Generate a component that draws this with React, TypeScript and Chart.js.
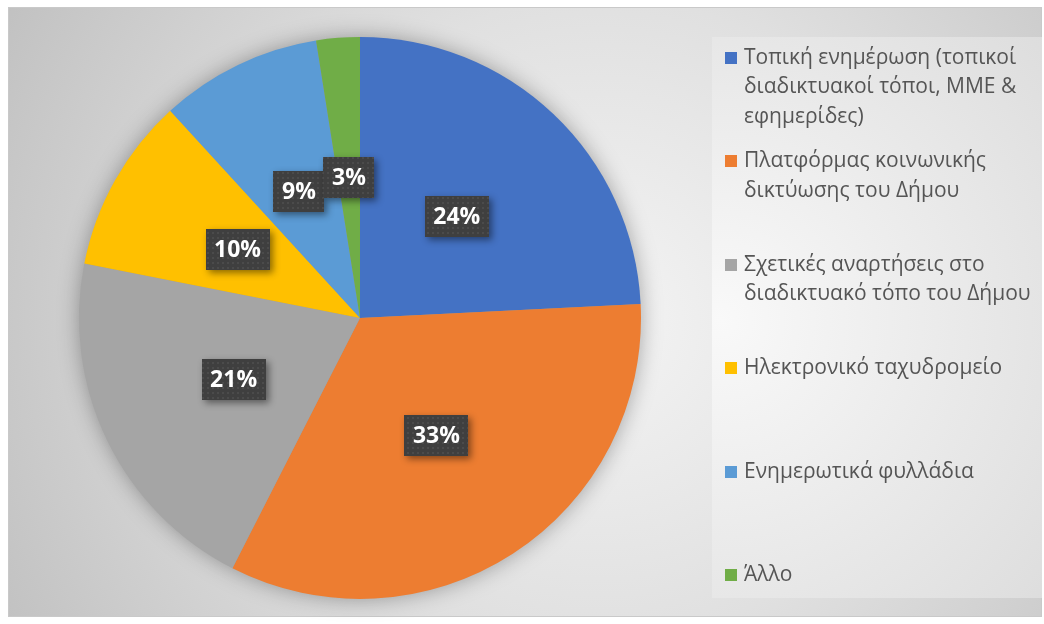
import React, { useEffect, useRef } from "react";
import { Chart, registerables } from "chart.js";

Chart.register(...registerables);

const categories: string[][] = [
  ["Τοπική ενημέρωση (τοπικοί", "διαδικτυακοί τόποι, ΜΜΕ &", "εφημερίδες)"],
  ["Πλατφόρμας κοινωνικής", "δικτύωσης του Δήμου"],
  ["Σχετικές αναρτήσεις στο", "διαδικτυακό τόπο του Δήμου"],
  ["Ηλεκτρονικό ταχυδρομείο"],
  ["Ενημερωτικά φυλλάδια"],
  ["Άλλο"],
];
const values: number[] = [24.2, 33.3, 20.6, 10.1, 9.3, 2.5];
const colors: string[] = ["#4472C4", "#ED7D31", "#A5A5A5", "#FFC000", "#5B9BD5", "#70AD47"];

const W = 1044;
const H = 624;

function makePattern(ctx: CanvasRenderingContext2D): CanvasPattern | string {
  const c = document.createElement("canvas");
  c.width = 5;
  c.height = 5;
  const p = c.getContext("2d");
  if (!p) return "#404040";
  p.fillStyle = "#3f3f3f";
  p.fillRect(0, 0, 5, 5);
  p.fillStyle = "#4b4b4b";
  p.fillRect(2, 2, 2, 2);
  return ctx.createPattern(c, "repeat") || "#404040";
}

const backgroundPlugin = {
  id: "bgPlugin",
  beforeDraw(chart: any) {
    const ctx: CanvasRenderingContext2D = chart.ctx;
    ctx.save();
    ctx.fillStyle = "#ffffff";
    ctx.fillRect(0, 0, W, H);
    const fx = 8, fy = 7, fw = 1034, fh = 610;
    const g = ctx.createRadialGradient(600, 320, 0, 600, 320, 720);
    g.addColorStop(0, "#f4f4f4");
    g.addColorStop(0.45, "#e0e0e0");
    g.addColorStop(1, "#bdbdbd");
    ctx.fillStyle = g;
    ctx.fillRect(fx, fy, fw, fh);
    ctx.strokeStyle = "#c9c9c9";
    ctx.lineWidth = 1;
    ctx.strokeRect(fx + 0.5, fy + 0.5, fw - 1, fh - 1);
    // legend box
    const lx = 712, ly = 37, lw = 330, lh = 561;
    const lg = ctx.createRadialGradient(720, 320, 0, 720, 320, 480);
    lg.addColorStop(0, "#f9f9f9");
    lg.addColorStop(1, "#dadada");
    ctx.fillStyle = lg;
    ctx.fillRect(lx, ly, lw, lh);
    ctx.restore();
  },
  beforeDatasetsDraw(chart: any) {
    const meta = chart.getDatasetMeta(0);
    const arc = meta.data[0];
    if (!arc) return;
    const { x, y, outerRadius } = arc.getProps(["x", "y", "outerRadius"], true);
    const ctx: CanvasRenderingContext2D = chart.ctx;
    ctx.save();
    ctx.shadowColor = "rgba(0,0,0,0.35)";
    ctx.shadowBlur = 22;
    ctx.fillStyle = "#999999";
    ctx.beginPath();
    ctx.arc(x, y, outerRadius - 1, 0, Math.PI * 2);
    ctx.fill();
    ctx.restore();
  },
  afterDatasetsDraw(chart: any) {
    const ctx: CanvasRenderingContext2D = chart.ctx;
    const meta = chart.getDatasetMeta(0);
    const data: number[] = chart.data.datasets[0].data;
    const total = data.reduce((a, b) => a + b, 0);
    const pattern = makePattern(ctx);
    ctx.save();
    ctx.font = "bold 23px 'Open Sans'";
    ctx.textAlign = "center";
    ctx.textBaseline = "middle";
    meta.data.forEach((arc: any, i: number) => {
      const pt = arc.getCenterPoint(true);
      const text = Math.round((data[i] / total) * 100) + "%";
      const tw = ctx.measureText(text).width;
      const bw = Math.round(tw + 17);
      const bh = 41;
      const bx = Math.round(pt.x - bw / 2);
      const by = Math.round(pt.y - bh / 2);
      ctx.save();
      ctx.shadowColor = "rgba(0,0,0,0.45)";
      ctx.shadowBlur = 7;
      ctx.shadowOffsetX = 3;
      ctx.shadowOffsetY = 3;
      ctx.fillStyle = "#3f3f3f";
      ctx.fillRect(bx, by, bw, bh);
      ctx.restore();
      ctx.fillStyle = pattern as any;
      ctx.fillRect(bx, by, bw, bh);
      ctx.fillStyle = "#ffffff";
      ctx.fillText(text, pt.x, pt.y + 1);
    });
    ctx.restore();
  },
  afterDraw(chart: any) {
    const ctx: CanvasRenderingContext2D = chart.ctx;
    const labels: string[][] = chart.data.labels;
    ctx.save();
    ctx.font = "21px 'Open Sans'";
    ctx.textBaseline = "middle";
    ctx.textAlign = "left";
    const top = 58;
    const slot = 103.4;
    const lineH = 29.5;
    labels.forEach((lines, i) => {
      const y0 = top + i * slot;
      ctx.fillStyle = colors[i];
      ctx.fillRect(725, Math.round(y0 - 6), 12, 12);
      ctx.fillStyle = "#555555";
      lines.forEach((ln, k) => {
        ctx.fillText(ln, 744, y0 + k * lineH);
      });
    });
    ctx.restore();
  },
};

export default function App() {
  const ref = useRef<HTMLCanvasElement | null>(null);
  useEffect(() => {
    if (!ref.current) return;
    const chart = new Chart(ref.current, {
      type: "pie",
      data: {
        labels: categories as any,
        datasets: [
          {
            data: values,
            backgroundColor: colors,
            borderWidth: 0,
          },
        ],
      },
      options: {
        responsive: false,
        animation: false,
        events: [],
        layout: { padding: { top: 37, bottom: 25, left: 79, right: 403 } },
        plugins: {
          legend: { display: false },
          tooltip: { enabled: false },
        },
      },
      plugins: [backgroundPlugin],
    });
    return () => chart.destroy();
  }, []);
  return (
    <div style={{ position: "fixed", left: 0, top: 0, width: W, height: H }}>
      <canvas ref={ref} width={W} height={H} style={{ display: "block" }} />
    </div>
  );
}
